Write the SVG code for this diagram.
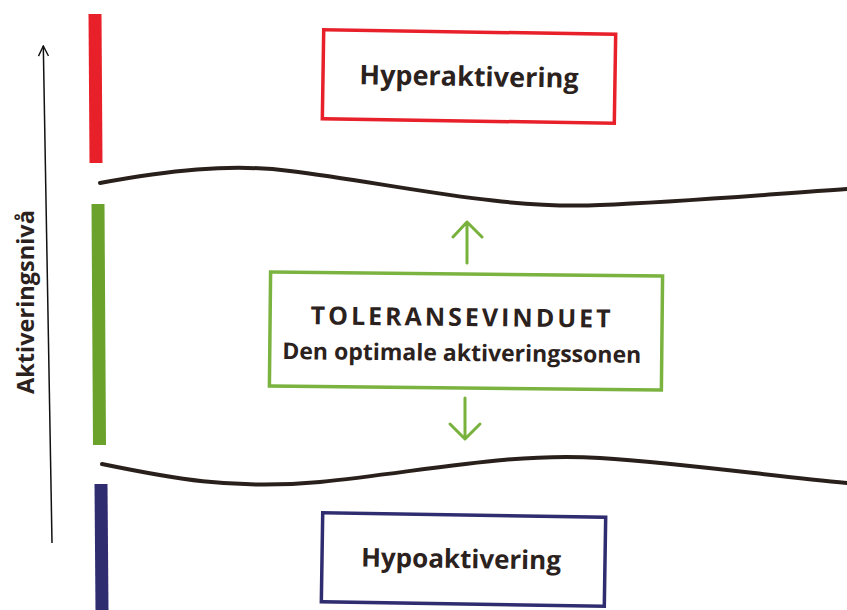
<svg xmlns="http://www.w3.org/2000/svg" width="847" height="610" viewBox="0 0 847 610">
<defs>
<style>
.lbl{font-family:"Open Sans","Liberation Sans",sans-serif;font-weight:700;fill:#2b2220;text-anchor:middle}
.box{fill:#fff;stroke-width:3.5}
.wave{fill:none;stroke:#2a201b;stroke-width:4;stroke-linecap:round}
.bar{stroke-width:13;stroke-linecap:butt}
.garrow{fill:none;stroke:#78b13c;stroke-width:3;stroke-linecap:round;stroke-linejoin:round}
</style>
<marker id="ah" viewBox="0 0 12 12" refX="11" refY="6" markerWidth="12" markerHeight="12" markerUnits="userSpaceOnUse" orient="auto">
<path d="M1,1 L11,6 L1,11" fill="none" stroke="#111" stroke-width="1.4"/>
</marker>
</defs>
<rect width="847" height="610" fill="#fff"/>
<g id="axis">
<line x1="52" y1="543" x2="43.3" y2="46" stroke="#111" stroke-width="1.5" marker-end="url(#ah)"/>
<text class="lbl" transform="translate(34,302) rotate(-90)" font-size="23.5">Aktiveringsnivå</text>
</g>
<g id="bars">
<line class="bar" x1="95" y1="14" x2="96" y2="163" stroke="#e8202a"/>
<line class="bar" x1="98" y1="204" x2="99.5" y2="445" stroke="#6aa22c"/>
<line class="bar" x1="101" y1="484" x2="102" y2="610" stroke="#2f2c70"/>
</g>
<g id="connectors">
<path class="wave" d="M100,183 C165,171 230,163 290,171 C390,183 500,210 600,205 C680,202 760,195 847,189"/>
<path class="wave" d="M102,464 C170,478 230,490 320,482 C420,472 510,452 600,458 C690,464 770,476 847,483"/>
<g id="arrow-up"><path class="garrow" d="M467,263 L467,222 M453,237 L467,222 L482,237"/></g>
<g id="arrow-down"><path class="garrow" d="M465,398 L465,439 M450,424 L465,439 L480,424"/></g>
</g>
<g id="hyper" transform="rotate(0.9 469 77)">
<rect class="box" x="323" y="32" width="292" height="89" stroke="#e8202a"/>
<text class="lbl" x="469" y="86" font-size="27">Hyperaktivering</text>
</g>
<g id="toleranse" transform="rotate(0.6 466 330)">
<rect class="box" x="270" y="274" width="392" height="114" stroke="#7ab33f"/>
<text class="lbl" x="462" y="326" font-size="25" letter-spacing="3">TOLERANSEVINDUET</text>
<text class="lbl" x="462" y="361" font-size="23">Den optimale aktiveringssonen</text>
</g>
<g id="hypo" transform="rotate(0.9 463 560)">
<rect class="box" x="322" y="515" width="283" height="89" stroke="#2f2c70"/>
<text class="lbl" x="461" y="568" font-size="26">Hypoaktivering</text>
</g>
</svg>
